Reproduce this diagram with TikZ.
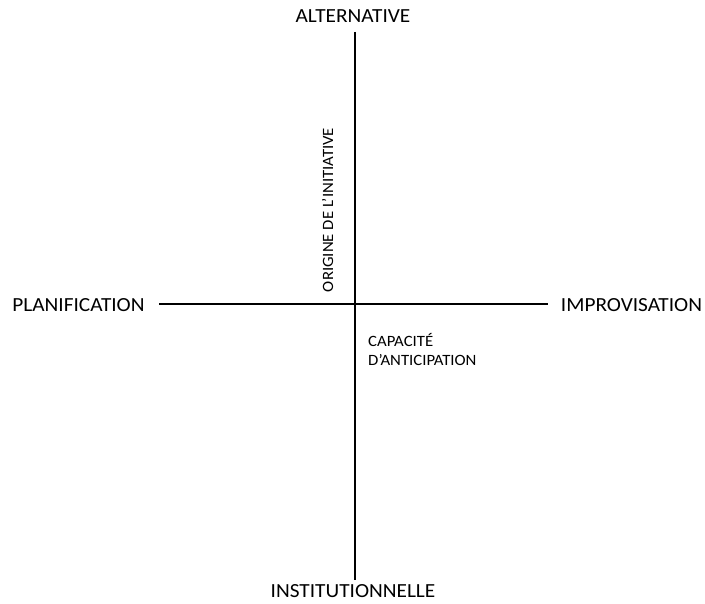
\documentclass[tikz,border=0pt]{standalone}
\usepackage{fontspec}
\setmainfont[FakeStretch=1.065]{Carlito}
\usepackage{tikz}

\begin{document}
\begin{tikzpicture}[x=1pt, y=1pt,
		axe/.style={line width=2pt},
		pole/.style={inner sep=0pt, anchor=base, font=\fontsize{20}{24}\selectfont},
		note/.style={inner sep=0pt, font=\fontsize{15.7}{19}\selectfont}]
				\useasboundingbox (0,0) rectangle (705,604);
				\begin{scope}
					\coordinate (haut) at (354.5,572);
					\coordinate (bas) at (354.5,24);
					\coordinate (gauche) at (159,299.5);
					\coordinate (droite) at (548,299.5);

					\node[pole] (alt) at (353,581) {ALTERNATIVE};
					\node[pole] (inst) at (353,6) {INSTITUTIONNELLE};
					\node[pole] (plan) at (78.5,292) {PLANIFICATION};
					\node[pole] (impro) at (631.5,292) {IMPROVISATION};

					\draw[axe] (haut) -- (bas); % axe vertical
					\draw[axe] (gauche) -- (droite); % axe horizontal

					\node[note, rotate=90, anchor=base] (origine) at (333,394) {ORIGINE DE L’INITIATIVE};
					\node[note, align=left, anchor=base west] (capacite) at (368,238.5) {CAPACITÉ\\D’ANTICIPATION};
				\end{scope}
			\end{tikzpicture}
\end{document}
